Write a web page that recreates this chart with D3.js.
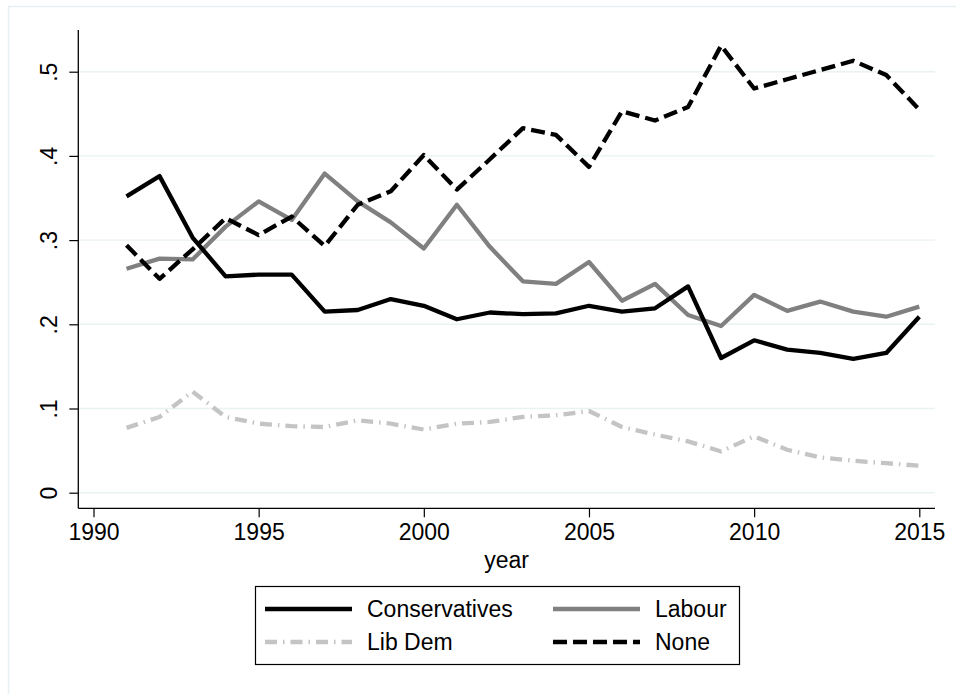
<!DOCTYPE html>
<html>
<head>
<meta charset="utf-8">
<script src="https://cdn.jsdelivr.net/npm/d3@7"></script>
<style>
  body { margin: 0; background: #fff; }
  svg { display: block; font-family: "Liberation Sans", Arial, sans-serif; }
</style>
</head>
<body>
<div id="chart"></div>
<script>
// data
const years = [1991, 1992, 1993, 1994, 1995, 1996, 1997, 1998, 1999, 2000, 2001, 2002, 2003,
               2004, 2005, 2006, 2007, 2008, 2009, 2010, 2011, 2012, 2013, 2014, 2015];
const conservatives = [0.352, 0.376, 0.303, 0.257, 0.259, 0.259, 0.215, 0.217, 0.230, 0.222, 0.206, 0.214, 0.212,
                       0.213, 0.222, 0.215, 0.219, 0.245, 0.160, 0.181, 0.170, 0.166, 0.159, 0.166, 0.209];
const labour = [0.266, 0.278, 0.277, 0.316, 0.346, 0.324, 0.379, 0.346, 0.321, 0.290, 0.342, 0.292, 0.251,
                0.248, 0.274, 0.228, 0.248, 0.211, 0.198, 0.235, 0.216, 0.227, 0.215, 0.209, 0.221];
const libDem = [0.077, 0.090, 0.120, 0.090, 0.082, 0.079, 0.078, 0.086, 0.082, 0.075, 0.082, 0.084, 0.090,
                0.092, 0.097, 0.078, 0.069, 0.061, 0.049, 0.067, 0.051, 0.042, 0.038, 0.035, 0.032];
const none = [0.294, 0.254, 0.289, 0.326, 0.306, 0.328, 0.293, 0.342, 0.358, 0.401, 0.360, 0.396, 0.433,
              0.425, 0.387, 0.453, 0.442, 0.458, 0.531, 0.480, 0.491, 0.502, 0.513, 0.496, 0.455];

const seriesNames = ["Conservatives", "Labour", "Lib Dem", "None"];
const seriesValues = [conservatives, labour, libDem, none];
const xTicks = [1990, 1995, 2000, 2005, 2010, 2015];
const yTicks = [0, 0.1, 0.2, 0.3, 0.4, 0.5];

// line looks per series
const styles = {
  "Conservatives": { color: "#000000", dash: null },
  "Labour":        { color: "#808080", dash: null },
  "Lib Dem":       { color: "#c4c4c4", dash: "12,6,1.5,6" },
  "None":          { color: "#000000", dash: "14,6" }
};

const W = 956, H = 694;
const plot = { left: 78.3, right: 935, top: 30, bottom: 508.3 };
const fontSize = "23px";

const svg = d3.select("#chart").append("svg")
    .attr("width", W)
    .attr("height", H);

// faint outer frame
svg.append("rect")
    .attr("x", 8.5).attr("y", 6.5)
    .attr("width", W).attr("height", H)
    .attr("fill", "none")
    .attr("stroke", "#e6eff1")
    .attr("stroke-width", 1.5);

const x = d3.scaleLinear().domain([1990, 2015]).range([93.5, 919.3]);
const y = d3.scaleLinear().domain([0, 0.5]).range([492.7, 71.7]);

// grid
svg.append("g")
  .selectAll("line")
  .data(yTicks)
  .enter().append("line")
    .attr("x1", plot.left).attr("x2", plot.right)
    .attr("y1", d => y(d)).attr("y2", d => y(d))
    .attr("stroke", "#eaf2f3")
    .attr("stroke-width", 1.4);

// y axis
const yAxis = svg.append("g")
    .attr("transform", `translate(${plot.left},0)`)
    .call(d3.axisLeft(y).tickValues(yTicks).tickSize(9).tickSizeOuter(0)
      .tickFormat(d => d === 0 ? "0" : d3.format(".1f")(d).replace(/^0/, "")));
yAxis.select(".domain").remove();
yAxis.selectAll(".tick line").attr("stroke", "#000").attr("stroke-width", 1.2);
yAxis.selectAll(".tick text")
    .attr("transform", "rotate(-90)")
    .attr("x", 0).attr("y", -21).attr("dy", 0)
    .attr("text-anchor", "middle")
    .attr("fill", "#000")
    .style("font-size", fontSize)
    .style("font-family", "'Liberation Sans', Arial, sans-serif");

// x axis
const xAxis = svg.append("g")
    .attr("transform", `translate(0,${plot.bottom})`)
    .call(d3.axisBottom(x).tickValues(xTicks).tickSize(9).tickSizeOuter(0).tickFormat(d3.format("d")));
xAxis.select(".domain").remove();
xAxis.selectAll(".tick line").attr("stroke", "#000").attr("stroke-width", 1.2);
xAxis.selectAll(".tick text")
    .attr("y", 32).attr("dy", 0)
    .attr("fill", "#000")
    .style("font-size", fontSize)
    .style("font-family", "'Liberation Sans', Arial, sans-serif");

// axis lines span the whole plot region
svg.append("line")
    .attr("x1", plot.left).attr("x2", plot.left)
    .attr("y1", plot.top).attr("y2", plot.bottom)
    .attr("stroke", "#000").attr("stroke-width", 1.3);
svg.append("line")
    .attr("x1", plot.left).attr("x2", plot.right)
    .attr("y1", plot.bottom).attr("y2", plot.bottom)
    .attr("stroke", "#000").attr("stroke-width", 1.3);

svg.append("text")
    .attr("x", (plot.left + plot.right) / 2)
    .attr("y", 568)
    .attr("text-anchor", "middle")
    .style("font-size", fontSize)
    .text("year");

// lines (Lib Dem at the back)
const line = d3.line()
    .x(d => x(d[0]))
    .y(d => y(d[1]));

const drawOrder = [2, 1, 0, 3];
drawOrder.forEach(i => {
  const name = seriesNames[i];
  const st = styles[name];
  svg.append("path")
    .datum(years.map((yr, j) => [yr, seriesValues[i][j]]))
    .attr("d", line)
    .attr("fill", "none")
    .attr("stroke", st.color)
    .attr("stroke-width", 4.3)
    .attr("stroke-linejoin", "round")
    .attr("stroke-linecap", "butt")
    .attr("stroke-dasharray", st.dash);
});

// legend
const legend = svg.append("g");
legend.append("rect")
    .attr("x", 255.5).attr("y", 586.5)
    .attr("width", 484).attr("height", 78)
    .attr("fill", "#fff")
    .attr("stroke", "#000")
    .attr("stroke-width", 1.2);

const colX = [265, 553];
const rowY = [609, 642];
seriesNames.forEach((name, i) => {
  const st = styles[name];
  const cx = colX[i % 2], cy = rowY[Math.floor(i / 2)];
  legend.append("line")
    .attr("x1", cx).attr("x2", cx + 87)
    .attr("y1", cy).attr("y2", cy)
    .attr("stroke", st.color)
    .attr("stroke-width", 4.5)
    .attr("stroke-dasharray", st.dash);
  legend.append("text")
    .attr("x", cx + 102)
    .attr("y", cy + 8)
    .style("font-size", fontSize)
    .text(name);
});
</script>
</body>
</html>
